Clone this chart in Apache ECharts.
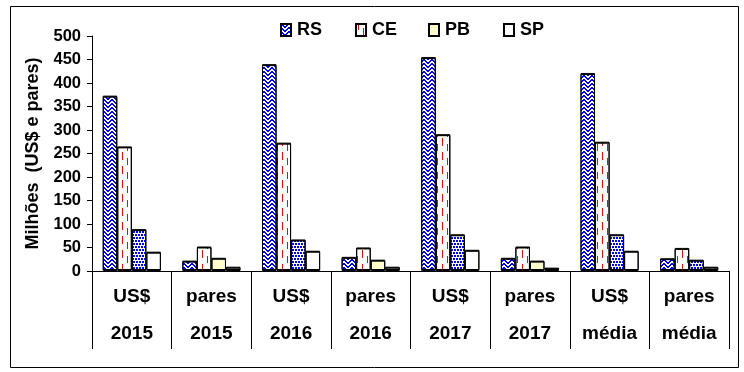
<!DOCTYPE html>
<html>
<head>
<meta charset="utf-8">
<script src="https://cdn.jsdelivr.net/npm/echarts@6/dist/echarts.min.js"></script>
<style>
html,body{margin:0;padding:0;background:#fff;}
#chart{width:744px;height:372px;}
</style>
</head>
<body>
<div id="chart"></div>
<script>
// ---- data ----
const kinds = ['US$', 'pares', 'US$', 'pares', 'US$', 'pares', 'US$', 'pares'];
const periods = ['2015', '2015', '2016', '2016', '2017', '2017', 'média', 'média'];
const seriesNames = ['RS', 'CE', 'PB', 'SP'];
const rsValues = [371, 20, 438, 28, 453, 26, 419, 25];
const ceValues = [263, 50, 271, 48, 289, 50, 273, 47];
const pbValues = [87, 26, 65, 22, 76, 20, 76, 22];
const spValues = [39, 7, 41, 7, 43, 5, 41, 7];
const pbBlueIndex = [0, 2, 4, 6, 7];
const yTicks = [0, 50, 100, 150, 200, 250, 300, 350, 400, 450, 500];

// ---- patterns ----
function bitmapPattern(rows, fg, bg) {
  const h = rows.length, w = rows[0].length;
  const c = document.createElement('canvas');
  c.width = w; c.height = h;
  const ctx = c.getContext('2d');
  ctx.fillStyle = bg; ctx.fillRect(0, 0, w, h);
  ctx.fillStyle = fg;
  for (let y = 0; y < h; y++) for (let x = 0; x < w; x++) {
    if (rows[y][x] === '1') ctx.fillRect(x, y, 1, 1);
  }
  return { image: c, repeat: 'repeat' };
}
const rsPattern = bitmapPattern([
  '11000011',
  '01100110',
  '00111100',
  '10011001',
  '11000011',
  '01100110',
  '00111100',
  '10011001'
], '#0000ff', '#ffffff');
const cePattern = bitmapPattern([
  '0010000000',
  '0010000000',
  '0010000000',
  '0010000000',
  '0010000100',
  '0010000100',
  '0000000100',
  '0000000100',
  '0000000100',
  '0000000100',
  '0000000100',
  '0000000000',
  '0010000000',
  '0010000000'
], '#ff0000', '#ffffff');
const pbBluePattern = bitmapPattern([
  '110110',
  '110110',
  '000000',
  '011011',
  '011011',
  '000000'
], '#0000ff', '#ffffff');
const pbYellow = '#ffffcc';

const categories = kinds.map((k, i) => k + '\n' + periods[i]);

const baseItem = { borderColor: '#000', borderWidth: 1, shadowColor: '#000', shadowBlur: 0, shadowOffsetY: -1 };

function mkSeries(name, values, color) {
  return {
    name: name, type: 'bar', barGap: '0%', barCategoryGap: '27%',
    itemStyle: Object.assign({ color: color }, baseItem),
    data: values,
    emphasis: { disabled: true },
    animation: false
  };
}

const pbData = pbValues.map((v, i) => pbBlueIndex.indexOf(i) >= 0
  ? { value: v, itemStyle: { color: pbBluePattern } }
  : v);

const legendLefts = [280, 355, 428, 503];
const legends = seriesNames.map((n, i) => ({
  data: [n],
  top: 21, left: legendLefts[i], padding: 0,
  itemWidth: 10, itemHeight: 12, itemGap: 6,
  icon: 'rect',
  textStyle: { fontSize: 18, fontWeight: 'bold', color: '#000', padding: [0, 0, 0, 1] },
  selectedMode: false
}));

const chart = echarts.init(document.getElementById('chart'), null, { renderer: 'canvas' });
chart.setOption({
  animation: false,
  backgroundColor: '#fff',
  textStyle: { fontFamily: 'Liberation Sans, Arial, sans-serif', color: '#000' },
  grid: { left: 92, right: 15, top: 36, bottom: 101, containLabel: false },
  legend: legends,
  xAxis: {
    type: 'category',
    data: categories,
    axisLine: { lineStyle: { color: '#000', width: 1 } },
    axisTick: { show: true, length: 78, interval: 0, lineStyle: { color: '#000' } },
    axisLabel: { interval: 0, margin: 7, fontSize: 19, fontWeight: 'bold', color: '#000', lineHeight: 37 }
  },
  yAxis: {
    type: 'value', min: yTicks[0], max: yTicks[yTicks.length - 1], interval: 50,
    name: 'Milhões  (US$ e pares)', nameLocation: 'middle', nameRotate: 90, nameGap: 50,
    nameTextStyle: { fontSize: 18, fontWeight: 'bold', color: '#000' },
    axisLine: { show: true, lineStyle: { color: '#000', width: 1 } },
    axisTick: { show: true, length: 5, lineStyle: { color: '#000' } },
    axisLabel: { fontSize: 16.5, fontWeight: 'bold', color: '#000', margin: 11 },
    splitLine: { show: false }
  },
  graphic: [{
    type: 'rect', shape: { x: 10.5, y: 6.5, width: 728, height: 361 },
    style: { fill: null, stroke: '#000', lineWidth: 1 }, silent: true
  }],
  series: [
    mkSeries('RS', rsValues, rsPattern),
    mkSeries('CE', ceValues, cePattern),
    Object.assign(mkSeries('PB', pbValues, pbYellow), { data: pbData }),
    mkSeries('SP', spValues, '#ffffff')
  ]
});
</script>
</body>
</html>
